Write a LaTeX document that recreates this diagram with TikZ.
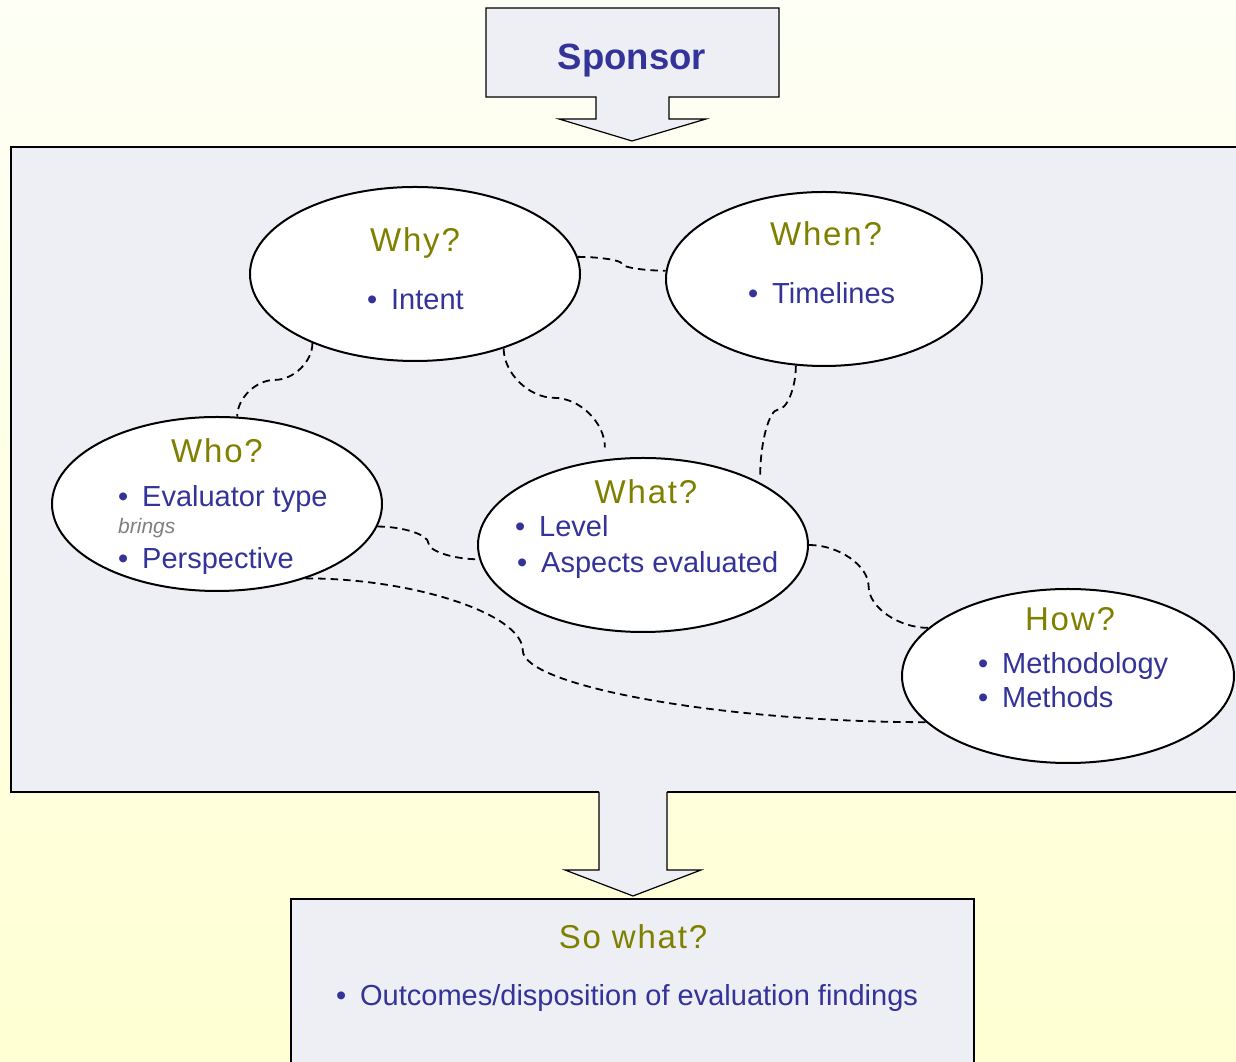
\documentclass[tikz,border=0pt]{standalone}
\usepackage{fontspec}
\setmainfont{Liberation Sans}
\usetikzlibrary{shapes.geometric,calc}

\definecolor{bgtop}{RGB}{254,255,245}
\definecolor{bgbottom}{RGB}{255,255,211}
\definecolor{panel}{RGB}{238,238,245}
\definecolor{titleolive}{RGB}{128,128,0}
\definecolor{itemblue}{RGB}{51,51,153}
\definecolor{notegray}{RGB}{128,128,128}

\newcommand\titlefont{\fontsize{33}{39}\selectfont\addfontfeature{LetterSpace=5.5}}
\newcommand\itemfont{\fontsize{29}{34}\selectfont}
\newcommand\bul{\llap{\textbullet\hspace{14pt}}}

% curved connector, horizontal ends, vertical tangent at the bend (#3 = bend position)
\newcommand\linkH[3]{%
  \draw[link] let \p1=(#1), \p2=(#2), \n1={\x1+#3*(\x2-\x1)}, \n2={(\y1+\y2)/2} in
    (\p1) .. controls ({(\x1+\n1)/2},\y1) and (\n1,{\y1+(\y2-\y1)/4}) .. (\n1,\n2)
          .. controls (\n1,{\y1+3*(\y2-\y1)/4}) and ({(\n1+\x2)/2},\y2) .. (\p2);}
% curved connector, vertical ends, horizontal tangent at the bend
\newcommand\linkV[3]{%
  \draw[link] let \p1=(#1), \p2=(#2), \n2={\y1+#3*(\y2-\y1)}, \n1={(\x1+\x2)/2} in
    (\p1) .. controls (\x1,{(\y1+\n2)/2}) and ({\x1+(\x2-\x1)/4},\n2) .. (\n1,\n2)
          .. controls ({\x1+3*(\x2-\x1)/4},\n2) and (\x2,{(\n2+\y2)/2}) .. (\p2);}

\tikzset{
  bubble/.style={ellipse, draw=black, line width=2pt, fill=white, inner sep=0pt,
                 minimum height=174pt},
  title/.style={anchor=base, text=titleolive, font=\titlefont, inner sep=0pt},
  item/.style={anchor=base west, text=itemblue, font=\itemfont, inner sep=0pt},
  note/.style={anchor=base west, text=notegray, font=\fontsize{21}{25}\selectfont\itshape, inner sep=0pt},
  link/.style={line width=1.8pt, dash pattern=on 7.5pt off 5pt},
  block/.style={fill=panel, draw=black, line width=2pt},
  arrowshape/.style={fill=panel, draw=black, line width=1.2pt, line join=miter},
}

\begin{document}
\begin{tikzpicture}[x=1pt, y=1pt]
  \useasboundingbox (0,0) rectangle (1236,1062);
  \clip (0,0) rectangle (1236,1062);
  \shade[top color=bgtop, bottom color=bgbottom] (0,0) rectangle (1236,1062);

  % sponsor callout
  \draw[arrowshape] (486,1054) -- (779,1054) -- (779,965) -- (669,965) -- (669,943)
    -- (706,943) -- (632,921) -- (559,943) -- (596,943) -- (596,965) -- (486,965) -- cycle;
  \node[anchor=base, text=itemblue, font=\fontsize{36.5}{42}\selectfont\bfseries, inner sep=0pt]
    (sponsor) at (632,992) {Sponsor};

  % evaluation panel
  \draw[block] (11,270) rectangle (1260,915);

  % arrow down to the outcomes box
  \fill[panel] (599,273) -- (599,192) -- (565,192) -- (633,166) -- (701,192) -- (667,192) -- (667,273) -- cycle;
  \draw[black, line width=1.2pt, line join=miter]
    (599,270) -- (599,192) -- (565,192) -- (633,166) -- (701,192) -- (667,192) -- (667,270);

  % outcomes box
  \draw[block] (291,163) rectangle (974,-20);
  \node[title] (sowhat) at (633,113) {So what?};
  \node[item] (outcomes) at (360,56) {\bul Outcomes/disposition of evaluation findings};

  % question bubbles
  \node[bubble, minimum width=330pt] (why)  at (415,788) {};
  \node[bubble, minimum width=316pt] (when) at (824,783) {};
  \node[bubble, minimum width=330pt] (who)  at (217,558) {};
  \node[bubble, minimum width=330pt] (what) at (643,517) {};
  \node[bubble, minimum width=332pt] (how)  at (1068,386) {};

  \node[title] (whyT) at (415,810) {Why?};
  \node[item] (whyA) at (391,752) {\bul Intent};

  \node[title] (whenT) at (826,816) {When?};
  \node[item] (whenA) at (772,758) {\bul Timelines};

  \node[title] (whoT) at (217,599) {Who?};
  \node[item] (whoA) at (142,555) {\bul Evaluator type};
  \node[note] (whoB) at (118,528) {brings};
  \node[item] (whoC) at (142,493) {\bul Perspective};

  \node[title] (whatT) at (646,558) {What?};
  \node[item] (whatA) at (539,525) {\bul Level};
  \node[item] (whatB) at (541,489) {\bul Aspects evaluated};

  \node[title] (howT) at (1070,431) {How?};
  \node[item] (howA) at (1002,388) {\bul Methodology};
  \node[item] (howB) at (1002,354) {\bul Methods};

  % dashed relations between the questions
  \linkH{why.6}{when.177}{0.5}
  \linkV{why.214}{who.77}{0.5}
  \linkV{why.-40}{$(what.114)+(0,12)$}{0.5}
  \linkV{when.252}{$(what.28)+(0,7)$}{0.4}
  \linkH{who.-8.5}{what.185}{0.5}
  \linkH{what.0}{how.161}{0.5}
  \linkH{who.-40}{how.198}{0.35}
\end{tikzpicture}
\end{document}
